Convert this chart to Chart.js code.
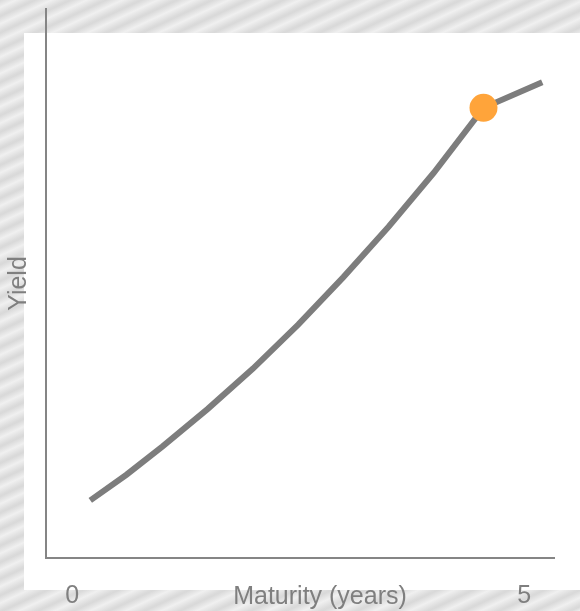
<!DOCTYPE html>
<html>
<head>
<meta charset="utf-8">
<script src="https://cdn.jsdelivr.net/npm/chart.js@4"></script>
<style>
  html, body { margin: 0; padding: 0; background: #ffffff; }
  #wrap { width: 580px; height: 611px; }
</style>
</head>
<body>
<div id="wrap"><canvas id="c" width="580" height="611"></canvas></div>
<script>
// Yield curve: maturity in years against yield
const maturities = [0.2, 0.6, 1.0, 1.5, 2.0, 2.5, 3.0, 3.5, 4.0, 4.55, 5.2];
const yields     = [0.63, 0.91, 1.22, 1.63, 2.07, 2.55, 3.07, 3.62, 4.21, 4.92, 5.20];

// Highlighted point on the curve
const markerMaturity = [4.55];
const markerYield    = [4.92];

// Axis labels
const xTickValues = [0, 5];
const xAxisTitle  = 'Maturity (years)';
const yAxisTitle  = 'Yield';

const FONT = "'Liberation Sans', Arial, Helvetica, sans-serif";
const TEXT_GREY = '#7f7f7f';
const AXIS_GREY = '#858585';

// Striped grey backdrop with a white panel behind the plot
const backdrop = {
  id: 'backdrop',
  beforeDraw(chart) {
    const ctx = chart.ctx;
    const w = chart.width, h = chart.height;
    ctx.save();
    const ang = 25 * Math.PI / 180;
    const nx = Math.sin(ang), ny = Math.cos(ang);
    const len = w * nx + h * ny;
    const g = ctx.createLinearGradient(0, 0, nx * len, ny * len);
    const period = 15;
    const n = Math.ceil(len / period);
    for (let i = 0; i < n; i++) {
      const a = (i * period) / len;
      const b = Math.min(1, (i * period + period * 0.45) / len);
      const c = Math.min(1, (i * period + period * 0.9) / len);
      g.addColorStop(a, '#d9d9d9');
      g.addColorStop(b, '#f0f0f0');
      g.addColorStop(c, '#dbdbdb');
    }
    ctx.fillStyle = g;
    ctx.fillRect(0, 0, w, h);
    ctx.fillStyle = '#ffffff';
    ctx.fillRect(24, 33, w - 24, 590 - 33);
    ctx.restore();
  }
};

// Caption under the horizontal axis
const xCaption = {
  id: 'xCaption',
  afterDraw(chart) {
    const ctx = chart.ctx;
    ctx.save();
    ctx.font = '25px ' + FONT;
    ctx.fillStyle = TEXT_GREY;
    ctx.textAlign = 'center';
    ctx.textBaseline = 'middle';
    ctx.fillText(xAxisTitle, 320, 597);
    ctx.restore();
  }
};

const curvePoints  = maturities.map((m, i) => ({ x: m, y: yields[i] }));
const markerPoints = markerMaturity.map((m, i) => ({ x: m, y: markerYield[i] }));

new Chart(document.getElementById('c'), {
  type: 'line',
  data: {
    datasets: [
      {
        label: 'marker',
        data: markerPoints,
        showLine: false,
        pointRadius: 14,
        pointHoverRadius: 14,
        pointBackgroundColor: '#ffa43a',
        pointBorderWidth: 0,
        order: 0
      },
      {
        label: 'curve',
        data: curvePoints,
        borderColor: '#7d7d7d',
        borderWidth: 6,
        borderCapStyle: 'butt',
        tension: 0,
        pointRadius: 0,
        fill: false,
        order: 1
      }
    ]
  },
  options: {
    responsive: false,
    animation: false,
    layout: { autoPadding: false, padding: { top: 9, right: 26, bottom: 0, left: 0 } },
    plugins: {
      legend: { display: false },
      tooltip: { enabled: false }
    },
    scales: {
      x: {
        type: 'linear',
        min: -0.29,
        max: 5.33,
        grid: { display: false, drawTicks: false },
        border: { display: true, color: AXIS_GREY, width: 2 },
        afterBuildTicks(scale) {
          scale.ticks = xTickValues.map(v => ({ value: v }));
        },
        afterFit(scale) { scale.height = 53; },
        ticks: {
          padding: 23,
          color: TEXT_GREY,
          font: { family: FONT, size: 25 },
          autoSkip: false,
          maxRotation: 0,
          callback: v => String(v)
        }
      },
      y: {
        min: 0,
        max: 6,
        grid: { display: false, drawTicks: false },
        border: { display: true, color: AXIS_GREY, width: 2 },
        ticks: { display: false },
        afterFit(scale) {
          scale.width = 46;
          scale.paddingTop = 0;
          scale.paddingBottom = 0;
        },
        title: {
          display: true,
          text: yAxisTitle,
          color: TEXT_GREY,
          font: { family: FONT, size: 25 },
          padding: { top: 4, bottom: 12 }
        }
      }
    }
  },
  plugins: [backdrop, xCaption]
});
</script>
</body>
</html>
